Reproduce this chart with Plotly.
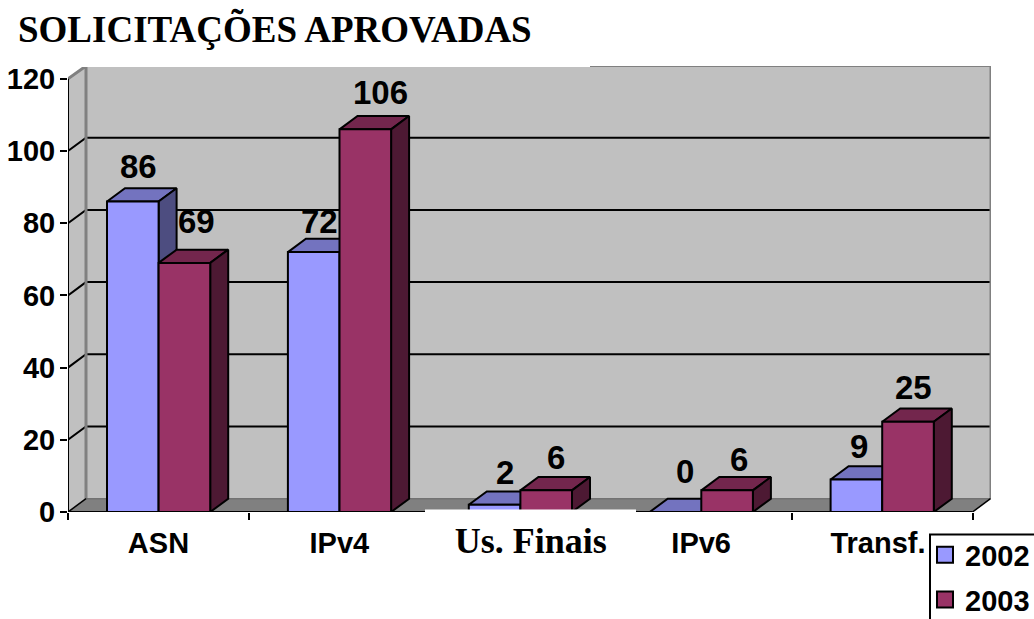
import plotly.graph_objects as go

# ---- data ----
categories = ["ASN", "IPv4", "Us. Finais", "IPv6", "Transf."]
series_names = ["2002", "2003"]
values_2002 = [86, 72, 2, 0, 9]
values_2003 = [69, 106, 6, 6, 25]
y_ticks = [0, 20, 40, 60, 80, 100, 120]
title_text = "SOLICITAÇÕES APROVADAS"

# ---- colours ----
front_colors = ["#9999FF", "#993366"]
top_colors = ["#7373BF", "#73264D"]
side_colors = ["#4D4D80", "#4D1933"]
WALL = "#C0C0C0"
FLOOR = "#808080"

# ---- page geometry (pixels) ----
W, H = 1034, 619
L, R, T, B = 68, 43, 66, 106.5
plot_w, plot_h = W - L - R, H - T - B
CAT_PX = 180.9
UNIT_PX = 3.614
x_max = plot_w / CAT_PX
y_max = plot_h / UNIT_PX
# oblique depth, expressed in axis units
DX = 18 / CAT_PX
DY = 13.3 / UNIT_PX
GAP = 39 / CAT_PX
BAR = 51.6 / CAT_PX
n = len(categories)


def px_x(p):
    return (p - L) / plot_w


def px_y(p):
    return 1 - (p - T) / plot_h


def poly(traces_x, traces_y, xs, ys):
    traces_x += list(xs) + [xs[0], None]
    traces_y += list(ys) + [ys[0], None]


def face(xs, ys, fill, name, lw=2, lc="black"):
    return go.Scatter(x=xs, y=ys, mode="lines", fill="toself", fillcolor=fill,
                      line=dict(color=lc, width=lw), showlegend=False,
                      hoverinfo="skip", name=name, cliponaxis=False)


fig = go.Figure()

# left wall, back wall, floor
fig.add_trace(face([0, DX, DX, 0, 0], [0, DY, y_max, 120, 0], WALL, "side wall", 0))
fig.add_trace(face([DX, n + DX, n + DX, DX, DX], [DY, DY, y_max, y_max, DY], WALL, "back wall", 0))
fig.add_trace(face([0, n, n + DX, DX, 0], [0, 0, DY, DY, 0], FLOOR, "floor", 0))

# gridlines: diagonal on the side wall + across the back wall
gx, gy = [], []
for t in y_ticks[1:-1]:
    gx += [0, DX, n + DX, None]
    gy += [t, t + DY, t + DY, None]
fig.add_trace(go.Scatter(x=gx, y=gy, mode="lines", line=dict(color="black", width=2),
                         showlegend=False, hoverinfo="skip", cliponaxis=False, name="grid"))
# wall edges in gray
fig.add_trace(go.Scatter(x=[0, DX, DX], y=[120, y_max, DY], mode="lines",
                         line=dict(color=FLOOR, width=3), showlegend=False,
                         hoverinfo="skip", cliponaxis=False, name="edge"))
fig.add_trace(go.Scatter(x=[DX, n + DX, n + DX, n + DX], y=[y_max, y_max, y_max, DY], mode="lines",
                         line=dict(color=FLOOR, width=2), showlegend=False,
                         hoverinfo="skip", cliponaxis=False, name="edge top"))
fig.add_trace(go.Scatter(x=[DX, n + DX], y=[DY, DY], mode="lines",
                         line=dict(color="#606060", width=1), showlegend=False,
                         hoverinfo="skip", cliponaxis=False, name="floor edge"))
fig.add_trace(go.Scatter(x=[0, DX, None, n, n + DX], y=[0, DY, None, 0, DY], mode="lines",
                         line=dict(color="black", width=1.5), showlegend=False,
                         hoverinfo="skip", cliponaxis=False, name="floor diagonal"))

# bars as oblique boxes
for s, vals in enumerate([values_2002, values_2003]):
    tx, ty, sx, sy, fx, fy = [], [], [], [], [], []
    for i, v in enumerate(vals):
        x0 = i + GAP + s * BAR
        x1 = x0 + BAR
        poly(tx, ty, [x0, x1, x1 + DX, x0 + DX], [v, v, v + DY, v + DY])
        poly(sx, sy, [x1, x1 + DX, x1 + DX, x1], [0, DY, v + DY, v])
        poly(fx, fy, [x0, x1, x1, x0], [0, 0, v, v])
    fig.add_trace(face(tx, ty, top_colors[s], series_names[s] + " top"))
    fig.add_trace(face(sx, sy, side_colors[s], series_names[s] + " side"))
    fig.add_trace(face(fx, fy, front_colors[s], series_names[s] + " front"))

# axis lines
fig.add_trace(go.Scatter(x=[0, 0, n], y=[120, 0, 0], mode="lines",
                         line=dict(color="black", width=2), showlegend=False,
                         hoverinfo="skip", cliponaxis=False, name="axes"))

# legend entries
for s in range(2):
    fig.add_trace(go.Scatter(x=[None], y=[None], mode="markers", name=series_names[s],
                             legendgroup=series_names[s],
                             marker=dict(symbol="square", size=16, color=front_colors[s],
                                         line=dict(color="black", width=2))))

# data labels (pixel nudges: where Excel left each label)
label_dx = [[6, 6, 10, 9, 3], [12, 15, 10, 12, 5]]
label_up = [[22, 17, 19, 27, 20], [28, 24, 20, 18, 21]]
annotations = []
for s, vals in enumerate([values_2002, values_2003]):
    for i, v in enumerate(vals):
        annotations.append(dict(
            x=i + GAP + s * BAR + BAR / 2, y=v + DY, text=str(v), showarrow=False,
            xshift=label_dx[s][i], yshift=label_up[s][i], xanchor="center", yanchor="middle",
            font=dict(family="Liberation Sans", size=33, color="black", weight="bold")))

tick_styles = {
    "Us. Finais": '<span style="font-family:\'Liberation Serif\';font-size:36px">&nbsp;&nbsp;&#8202;Us. Finais</span>',
    "Transf.": "Transf.&nbsp;",
}
tick_text = [tick_styles.get(c, c) for c in categories]

fig.update_layout(
    width=W, height=H, margin=dict(l=L, r=R, t=T, b=B, autoexpand=False, pad=0),
    paper_bgcolor="white", plot_bgcolor="white",
    title=dict(text=title_text, xref="container", yref="container", x=18 / W, y=1 - 29.5 / H,
               xanchor="left", yanchor="middle",
               font=dict(family="Liberation Serif", size=37, color="black", weight="bold")),
    xaxis=dict(range=[0, x_max], tickmode="array", tickvals=[i + 0.5 for i in range(n)],
               ticktext=tick_text, ticks="", showgrid=False, zeroline=False, showline=False,
               tickfont=dict(family="Liberation Sans", size=29, color="black", weight="bold"),
               minor=dict(tickmode="array", tickvals=list(range(n + 1)), ticks="outside",
                          ticklen=7, tickwidth=2, tickcolor="black", showgrid=False),
               ticklabelstandoff=11),
    yaxis=dict(range=[0, y_max], tickmode="array", tickvals=y_ticks, ticks="outside", ticklen=7,
               tickwidth=2, tickcolor="black", showgrid=False, zeroline=False, showline=False,
               ticklabelstandoff=-1,
               tickfont=dict(family="Liberation Sans", size=29, color="black", weight="bold")),
    legend=dict(x=px_x(925), y=px_y(530), xanchor="left", yanchor="top",
                bgcolor="rgba(0,0,0,0)", borderwidth=0, tracegroupgap=4,
                font=dict(family="Liberation Sans", size=29, color="black", weight="bold")),
    annotations=annotations,
    shapes=[
        dict(type="rect", xref="paper", yref="paper", layer="above",
             x0=px_x(-5), x1=px_x(590), y0=px_y(-5), y1=px_y(67),
             fillcolor="white", line=dict(width=0)),
        dict(type="rect", xref="paper", yref="paper", layer="above",
             x0=px_x(425), x1=px_x(636), y0=px_y(510), y1=px_y(524),
             fillcolor="white", line=dict(width=0)),
        dict(type="rect", xref="paper", yref="paper", layer="above",
             x0=px_x(930), x1=px_x(1045), y0=px_y(535), y1=px_y(630),
             fillcolor="white", line=dict(color="black", width=2)),
    ],
)

fig.write_html("out.html", config=dict(displayModeBar=False),
               post_script="document.body.style.margin='0';document.body.style.overflow='hidden';")
